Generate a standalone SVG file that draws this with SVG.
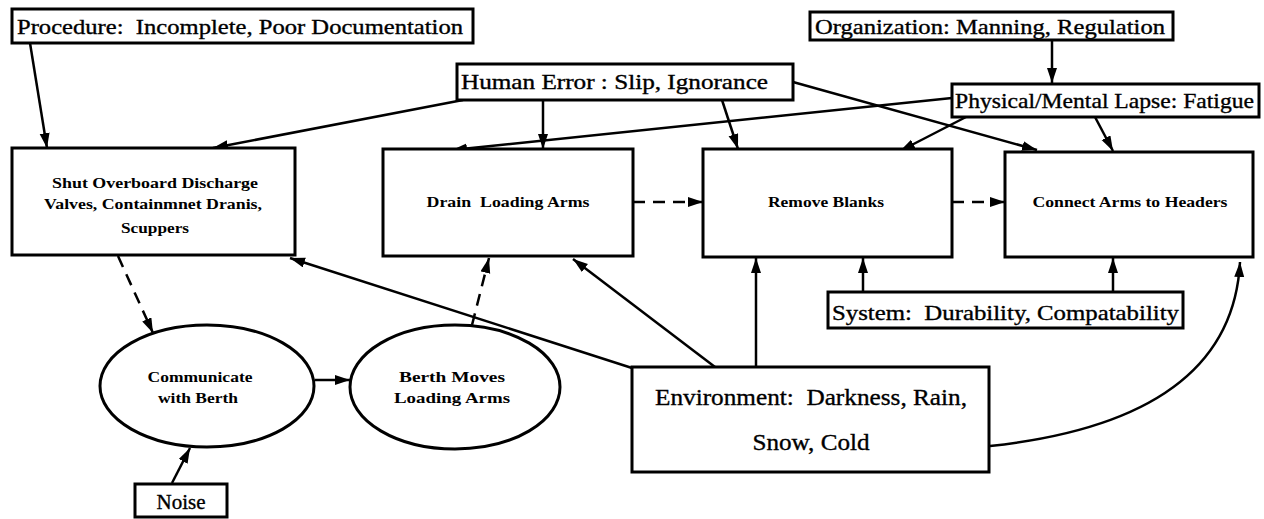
<svg xmlns="http://www.w3.org/2000/svg" width="1264" height="519" viewBox="0 0 1264 519">
  <style>
    .box { fill: #fff; stroke: #000; stroke-width: 3; }
    .ell { fill: #fff; stroke: #000; stroke-width: 3; }
    .lbl { font-family: "Liberation Serif", "Times New Roman", serif; fill: #000; white-space: pre; stroke: #000; stroke-width: 0.35; }
    .big { font-size: 21px; }
    .env { font-size: 24px; }
    .small { font-size: 15px; font-weight: bold; stroke-width: 0; }
    .mid { text-anchor: middle; }
    .link { fill: none; stroke: #000; stroke-width: 2.5; marker-end: url(#arrow); }
    .dash { stroke-dasharray: 12 8; }
  </style>
  <defs>
    <marker id="arrow" markerUnits="userSpaceOnUse" markerWidth="16" markerHeight="12" refX="15" refY="5" orient="auto">
      <path d="M0,0 L15,5 L0,10 z" fill="#000"/>
    </marker>
  </defs>
  <rect width="1264" height="519" fill="#fff"/>

  <!-- connectors -->
  <g id="connectors">
    <line class="link" x1="30" y1="43" x2="47" y2="148"/>
    <line class="link" x1="463" y1="100" x2="213" y2="148"/>
    <line class="link" x1="543" y1="100" x2="543" y2="149"/>
    <line class="link" x1="722" y1="100" x2="738" y2="149"/>
    <line class="link" x1="793" y1="82" x2="1037" y2="150"/>
    <line class="link" x1="1052" y1="40" x2="1052" y2="83"/>
    <line class="link" x1="952" y1="98" x2="452" y2="150"/>
    <line class="link" x1="966" y1="117" x2="900" y2="151"/>
    <line class="link" x1="1095" y1="117" x2="1113" y2="151"/>
    <line class="link dash" x1="633" y1="202" x2="703" y2="202"/>
    <line class="link dash" x1="952" y1="202" x2="1005" y2="202"/>
    <line class="link" x1="863" y1="292" x2="863" y2="258"/>
    <line class="link" x1="1113" y1="292" x2="1113" y2="258"/>
    <line class="link" x1="756" y1="367" x2="756" y2="258"/>
    <line class="link" x1="715" y1="367" x2="573" y2="259"/>
    <line class="link" x1="632" y1="368" x2="290" y2="258"/>
    <path class="link" d="M 990 446 Q 1232 420 1240 262"/>
    <line class="link dash" x1="118" y1="256" x2="153" y2="333"/>
    <line class="link dash" x1="472" y1="325" x2="489" y2="258"/>
    <line class="link" x1="315" y1="380" x2="350" y2="380"/>
    <line class="link" x1="172" y1="483" x2="190" y2="448"/>
  </g>

  <g id="procedure">
    <rect class="box" x="12" y="9" width="461" height="34"/>
    <text class="lbl big" x="17" y="34" textLength="446" lengthAdjust="spacingAndGlyphs">Procedure:  Incomplete, Poor Documentation</text>
  </g>
  <g id="human-error">
    <rect class="box" x="457" y="64" width="336" height="36"/>
    <text class="lbl big" x="461" y="89" textLength="307" lengthAdjust="spacingAndGlyphs">Human Error : Slip, Ignorance</text>
  </g>
  <g id="organization">
    <rect class="box" x="810" y="12" width="363" height="28"/>
    <text class="lbl big" x="815" y="34" textLength="350" lengthAdjust="spacingAndGlyphs">Organization: Manning, Regulation</text>
  </g>
  <g id="lapse">
    <rect class="box" x="952" y="84" width="307" height="33"/>
    <text class="lbl big" x="955" y="108" textLength="299" lengthAdjust="spacingAndGlyphs">Physical/Mental Lapse: Fatigue</text>
  </g>
  <g id="shut-valves">
    <rect class="box" x="12" y="148" width="283" height="107"/>
    <text class="lbl small mid" x="155" y="188" textLength="206" lengthAdjust="spacingAndGlyphs">Shut Overboard Discharge</text>
    <text class="lbl small mid" x="153" y="209" textLength="218" lengthAdjust="spacingAndGlyphs">Valves, Containmnet Dranis,</text>
    <text class="lbl small mid" x="155" y="233" textLength="68" lengthAdjust="spacingAndGlyphs">Scuppers</text>
  </g>
  <g id="drain-arms">
    <rect class="box" x="383" y="149" width="250" height="107"/>
    <text class="lbl small mid" x="508" y="207" textLength="163" lengthAdjust="spacingAndGlyphs">Drain  Loading Arms</text>
  </g>
  <g id="remove-blanks">
    <rect class="box" x="703" y="149" width="249" height="108"/>
    <text class="lbl small mid" x="826" y="207" textLength="116" lengthAdjust="spacingAndGlyphs">Remove Blanks</text>
  </g>
  <g id="connect-arms">
    <rect class="box" x="1005" y="152" width="248" height="105"/>
    <text class="lbl small mid" x="1130" y="207" textLength="195" lengthAdjust="spacingAndGlyphs">Connect Arms to Headers</text>
  </g>
  <g id="system">
    <rect class="box" x="828" y="292" width="355" height="36"/>
    <text class="lbl big" x="832" y="320" textLength="347" lengthAdjust="spacingAndGlyphs">System:  Durability, Compatability</text>
  </g>
  <g id="environment">
    <rect class="box" x="632" y="367" width="357" height="105"/>
    <text class="lbl env mid" x="811" y="405" textLength="312" lengthAdjust="spacingAndGlyphs">Environment:  Darkness, Rain,</text>
    <text class="lbl env mid" x="811" y="450" textLength="117" lengthAdjust="spacingAndGlyphs">Snow, Cold</text>
  </g>
  <g id="communicate">
    <ellipse class="ell" cx="207" cy="386" rx="107" ry="61"/>
    <text class="lbl small mid" x="200" y="382" textLength="105" lengthAdjust="spacingAndGlyphs">Communicate</text>
    <text class="lbl small mid" x="198" y="403" textLength="80" lengthAdjust="spacingAndGlyphs">with Berth</text>
  </g>
  <g id="berth-moves">
    <ellipse class="ell" cx="455" cy="387" rx="105" ry="62"/>
    <text class="lbl small mid" x="452" y="382" textLength="106" lengthAdjust="spacingAndGlyphs">Berth Moves</text>
    <text class="lbl small mid" x="452" y="403" textLength="116" lengthAdjust="spacingAndGlyphs">Loading Arms</text>
  </g>
  <g id="noise">
    <rect class="box" x="135" y="484" width="92" height="33"/>
    <text class="lbl big mid" x="181" y="509">Noise</text>
  </g>
</svg>
